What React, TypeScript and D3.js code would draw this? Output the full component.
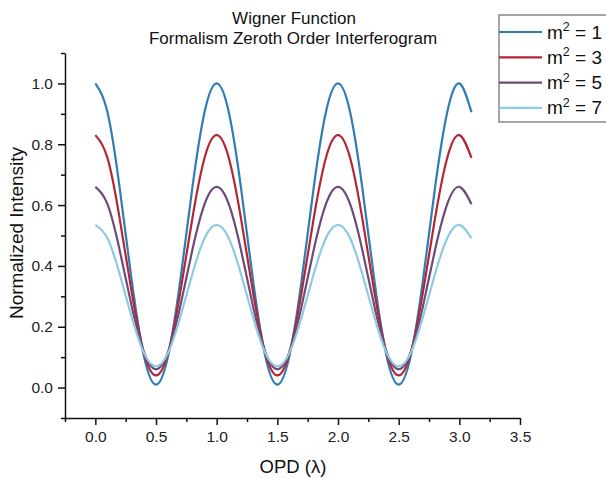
// Wigner function zeroth order interferogram, drawn with d3 scales + axes
import React, { useEffect, useRef } from "react";
import * as d3 from "d3";

// OPD sample positions (in wavelengths)
const opd = [
  0, 0.1, 0.2, 0.3, 0.4, 0.5, 0.6, 0.7, 0.8, 0.9, 1.0, 1.1, 1.2, 1.3, 1.4, 1.5,
  1.6, 1.7, 1.8, 1.9, 2.0, 2.1, 2.2, 2.3, 2.4, 2.5, 2.6, 2.7, 2.8, 2.9, 3.0, 3.1,
];

// normalized intensity
const m1 = [
  1.0, 0.905, 0.658, 0.352, 0.105, 0.01, 0.105, 0.352, 0.658, 0.905,
  1.0, 0.905, 0.658, 0.352, 0.105, 0.01, 0.105, 0.352, 0.658, 0.905,
  1.0, 0.905, 0.658, 0.352, 0.105, 0.01, 0.105, 0.352, 0.658, 0.905,
  1.0, 0.905,
];
const m3 = [
  0.83, 0.755, 0.557, 0.313, 0.115, 0.04, 0.115, 0.313, 0.557, 0.755,
  0.83, 0.755, 0.557, 0.313, 0.115, 0.04, 0.115, 0.313, 0.557, 0.755,
  0.83, 0.755, 0.557, 0.313, 0.115, 0.04, 0.115, 0.313, 0.557, 0.755,
  0.83, 0.755,
];
const m5 = [
  0.66, 0.603, 0.453, 0.267, 0.117, 0.06, 0.117, 0.267, 0.453, 0.603,
  0.66, 0.603, 0.453, 0.267, 0.117, 0.06, 0.117, 0.267, 0.453, 0.603,
  0.66, 0.603, 0.453, 0.267, 0.117, 0.06, 0.117, 0.267, 0.453, 0.603,
  0.66, 0.603,
];
const m7 = [
  0.535, 0.491, 0.374, 0.231, 0.114, 0.07, 0.114, 0.231, 0.374, 0.491,
  0.535, 0.491, 0.374, 0.231, 0.114, 0.07, 0.114, 0.231, 0.374, 0.491,
  0.535, 0.491, 0.374, 0.231, 0.114, 0.07, 0.114, 0.231, 0.374, 0.491,
  0.535, 0.491,
];

const seriesNames = ["1", "3", "5", "7"];
const seriesColors = ["#2f7db4", "#b42633", "#6c4b7b", "#8ecae2"];
const xTicks = [0, 0.5, 1.0, 1.5, 2.0, 2.5, 3.0, 3.5];
const yTicks = [0, 0.2, 0.4, 0.6, 0.8, 1.0];

const W = 606;
const H = 478;
const font = "'Liberation Sans', Arial, sans-serif";

export default function App() {
  const xAxisRef = useRef<SVGGElement>(null);
  const yAxisRef = useRef<SVGGElement>(null);

  const x = d3.scaleLinear().domain([-0.25, 3.5]).range([65, 520]);
  const y = d3.scaleLinear().domain([-0.1, 1.1]).range([418, 53]);

  const series = [m1, m3, m5, m7];
  const line = d3
    .line<number>()
    .x((_, i) => x(opd[i]))
    .y((d) => y(d))
    .curve(d3.curveNatural);

  useEffect(() => {
    //X axis: major + minor ticks, pointing down
    const gx = d3.select(xAxisRef.current!);
    gx.selectAll("*").remove();
    gx.append("g")
      .call(d3.axisBottom(x).tickValues(d3.range(-0.25, 3.5, 0.5)).tickSize(4).tickFormat(() => ""))
      .call((g) => g.select(".domain").remove());
    gx.append("g")
      .call(d3.axisBottom(x).tickValues(xTicks).tickSize(7).tickSizeOuter(0).tickPadding(6).tickFormat(d3.format(".1f")));

    //Y axis: major + minor ticks, pointing left
    const gy = d3.select(yAxisRef.current!);
    gy.selectAll("*").remove();
    gy.append("g")
      .call(d3.axisLeft(y).tickValues(d3.range(-0.1, 1.15, 0.2)).tickSize(4).tickFormat(() => ""))
      .call((g) => g.select(".domain").remove());
    gy.append("g")
      .call(d3.axisLeft(y).tickValues(yTicks).tickSize(7).tickSizeOuter(0).tickPadding(5).tickFormat(d3.format(".1f")));

    [gx, gy].forEach((g) => {
      g.selectAll("path, line").attr("stroke", "#111").attr("stroke-width", 1.5);
      g.selectAll("text").attr("font-family", font).attr("font-size", 15.5).attr("fill", "#222");
    });
  }, []);

  return (
    <svg width={W} height={H} style={{ position: "absolute", left: 0, top: 0, background: "#fff" }}>
      {/* Title */}
      <text x={294} y={24} textAnchor="middle" fontFamily={font} fontSize={17} fill="#111">
        Wigner Function
      </text>
      <text x={293} y={44} textAnchor="middle" fontFamily={font} fontSize={17} fill="#111">
        Formalism Zeroth Order Interferogram
      </text>

      {/* Curves */}
      {series.map((s, i) => (
        <path key={i} d={line(s) ?? ""} fill="none" stroke={seriesColors[i]} strokeWidth={2.2} />
      ))}

      <g ref={xAxisRef} transform="translate(0,418)" />
      <g ref={yAxisRef} transform="translate(65,0)" />

      {/* Axis labels */}
      <text x={293} y={473} textAnchor="middle" fontFamily={font} fontSize={18.5} fill="#111">
        OPD (λ)
      </text>
      <text
        transform="translate(23,233) rotate(-90)"
        textAnchor="middle"
        fontFamily={font}
        fontSize={19}
        fill="#111"
      >
        Normalized Intensity
      </text>

      {/* Legend */}
      <rect x={499} y={15} width={120} height={107} fill="#fff" stroke="#888" strokeWidth={1.5} />
      {seriesNames.map((n, i) => {
        const cy = 32 + i * 25.3;
        return (
          <g key={n}>
            <line x1={499} x2={542} y1={cy} y2={cy} stroke={seriesColors[i]} strokeWidth={2.2} />
            <text x={547} y={cy + 6.5} fontFamily={font} fontSize={19} fill="#111">
              m
              <tspan fontSize={12.5} dy={-7.5}>2</tspan>
              <tspan dy={7.5}> = {n}</tspan>
            </text>
          </g>
        );
      })}
    </svg>
  );
}
